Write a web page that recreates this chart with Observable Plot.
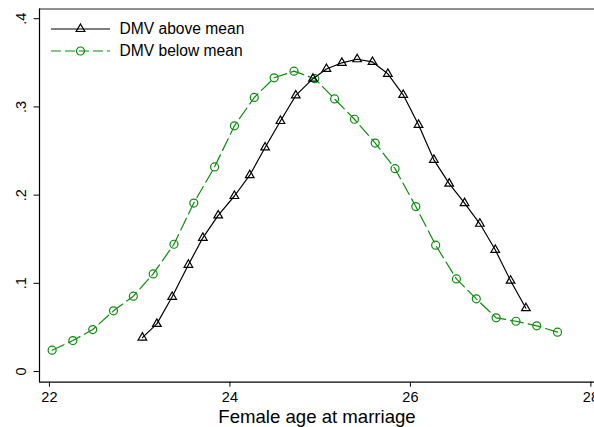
<!DOCTYPE html>
<html>
<head>
<meta charset="utf-8">
<script src="https://cdn.jsdelivr.net/npm/d3@7"></script>
<script src="https://cdn.jsdelivr.net/npm/@observablehq/plot@0.6"></script>
<style>
  html, body { margin: 0; padding: 0; background: #fff; }
  #wrap { position: relative; width: 594px; height: 427px; overflow: hidden; }
  #legend { position: absolute; left: 0; top: 0; }
  svg { font-family: "Liberation Sans", Arial, sans-serif; }
</style>
</head>
<body>
<div id="wrap"></div>
<script>
// Female age at marriage (x) and density (y)
const seriesNames = ["DMV above mean", "DMV below mean"];
const ageAbove = [23.03, 23.19, 23.36, 23.54, 23.70, 23.87, 24.05, 24.22, 24.39, 24.56, 24.73, 24.92, 25.07, 25.24, 25.41, 25.58, 25.75, 25.92, 26.09, 26.26, 26.43, 26.60, 26.77, 26.94, 27.11, 27.28];
const densAbove = [0.0385, 0.054, 0.0847, 0.121, 0.1516, 0.177, 0.199, 0.2226, 0.254, 0.284, 0.313, 0.332, 0.343, 0.350, 0.354, 0.351, 0.3375, 0.3137, 0.2797, 0.240, 0.213, 0.191, 0.1675, 0.138, 0.103, 0.0718];
const ageBelow = [22.03, 22.26, 22.48, 22.71, 22.93, 23.15, 23.38, 23.60, 23.83, 24.05, 24.27, 24.49, 24.71, 24.94, 25.16, 25.38, 25.61, 25.83, 26.06, 26.28, 26.51, 26.73, 26.95, 27.17, 27.40, 27.63];
const densBelow = [0.0242, 0.0351, 0.0476, 0.0688, 0.0854, 0.1107, 0.1443, 0.191, 0.232, 0.2786, 0.3107, 0.333, 0.3405, 0.332, 0.309, 0.286, 0.259, 0.230, 0.187, 0.1432, 0.105, 0.0824, 0.0609, 0.057, 0.0518, 0.0446];
const xTicks = [22, 24, 26, 28];
const yTicks = [0, 0.1, 0.2, 0.3, 0.4];
const yTickLabels = ["0", ".1", ".2", ".3", ".4"];
const xLabel = "Female age at marriage";

const green = "#0b8c0b";
const FONT = "'Liberation Sans', Arial, sans-serif";

const above = ageAbove.map((a, i) => ({age: a, dens: densAbove[i]}));
const below = ageBelow.map((a, i) => ({age: a, dens: densBelow[i]}));

const xDomain = [21.89, 28.04];
const yDomain = [-0.0121, 0.411];

const chart = Plot.plot({
  width: 594,
  height: 427,
  marginLeft: 39,
  marginRight: 0,
  marginTop: 8.5,
  marginBottom: 45.3,
  style: {fontFamily: FONT, background: "#fff", color: "#000"},
  x: {domain: xDomain},
  y: {domain: yDomain},
  marks: [
    Plot.ruleY([yDomain[1]], {stroke: "#222", strokeWidth: 1.2}),
    Plot.ruleY([yDomain[0]], {stroke: "#000", strokeWidth: 1.2}),
    Plot.ruleX([xDomain[0]], {stroke: "#000", strokeWidth: 1.2}),
    Plot.axisX({ticks: xTicks, tickSize: 5, tickPadding: 5, fontSize: 14.5, label: null, tickFormat: d => String(d)}),
    Plot.axisY({ticks: yTicks, tickSize: 5.4, tickPadding: 8, fontSize: 14.5, label: null, tickRotate: -90,
      tickFormat: d => yTickLabels[yTicks.indexOf(d)]}),
    Plot.text([xLabel], {frameAnchor: "bottom", lineAnchor: "middle", dy: 35.2, fontSize: 18.6, text: d => d}),
    Plot.line(below, {x: "age", y: "dens", stroke: green, strokeWidth: 1.2, strokeDasharray: "13,5"}),
    Plot.dot(below, {x: "age", y: "dens", stroke: green, strokeWidth: 1.2, fill: "none", r: 4, symbol: "circle"}),
    Plot.line(above, {x: "age", y: "dens", stroke: "#000", strokeWidth: 1.2}),
    Plot.dot(above, {x: "age", y: "dens", stroke: "#000", strokeWidth: 1.2, fill: "none", r: 3.2, symbol: "triangle"})
  ]
});

const wrap = document.getElementById("wrap");
wrap.appendChild(chart);

// Legend overlay (inside the plot region, top-left)
const lg = d3.create("svg").attr("id", "legend").attr("width", 300).attr("height", 70)
  .style("font-family", FONT);
const items = [
  {name: seriesNames[0], color: "#000", dash: null, symbol: d3.symbolTriangle, size: Math.PI * 3.2 * 3.2, y: 29},
  {name: seriesNames[1], color: green, dash: "10,4", symbol: d3.symbolCircle, size: Math.PI * 4 * 4, y: 51}
];
for (const it of items) {
  const ln = lg.append("line").attr("x1", 51).attr("x2", 110).attr("y1", it.y).attr("y2", it.y)
    .attr("stroke", it.color).attr("stroke-width", 1.2);
  if (it.dash) ln.attr("stroke-dasharray", it.dash);
  lg.append("path").attr("d", d3.symbol(it.symbol, it.size)()).attr("transform", `translate(80.5,${it.y})`)
    .attr("fill", "none").attr("stroke", it.color).attr("stroke-width", 1.2);
  lg.append("text").attr("x", 119.5).attr("y", it.y).attr("dy", "0.35em").attr("font-size", 15.6)
    .attr("fill", "#000").text(it.name);
}
wrap.appendChild(lg.node());
</script>
</body>
</html>
